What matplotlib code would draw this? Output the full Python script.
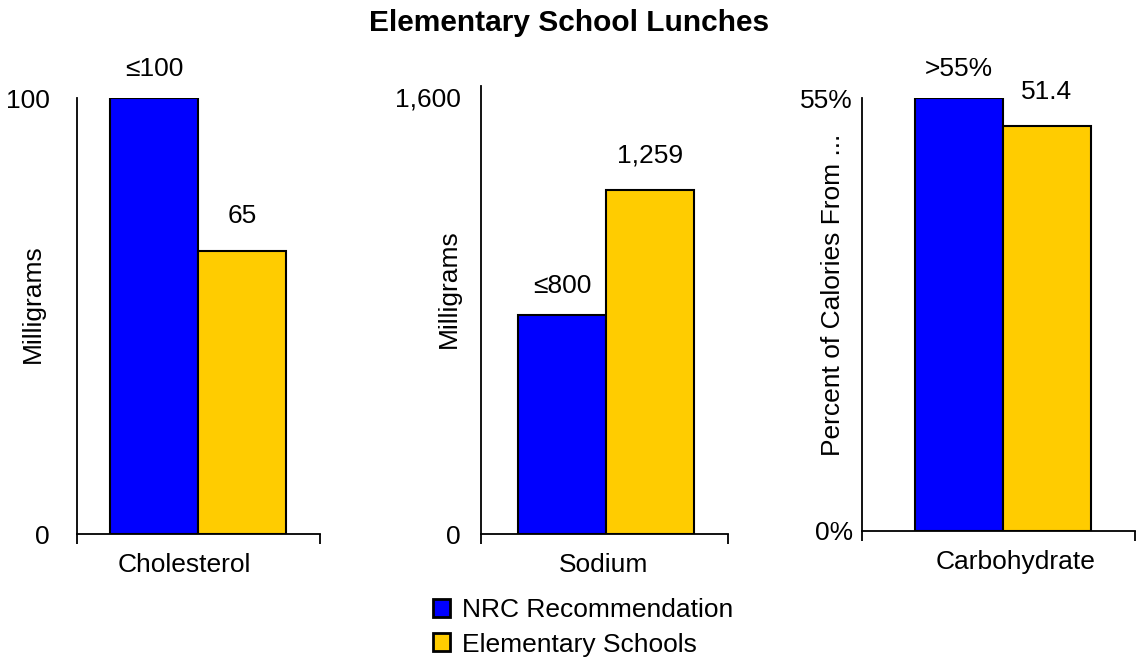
import matplotlib
matplotlib.use("Agg")
import matplotlib.pyplot as plt
from matplotlib.patches import Patch

plt.rcParams['font.family'] = ['Liberation Sans', 'DejaVu Sans']

# ---- data ----
title = "Elementary School Lunches"
series = ["NRC Recommendation", "Elementary Schools"]
colors = ["#0000FF", "#FFCC00"]

categories = ["Cholesterol", "Sodium", "Carbohydrate"]
ylabels = ["Milligrams", "Milligrams", "Percent of Calories From ..."]
nrc_values = [100, 800, 55]
school_values = [65, 1259, 51.4]
nrc_labels = ["\u2264100", "\u2264800", ">55%"]
school_labels = ["65", "1,259", "51.4"]
yticks = [[0, 100], [0, 1600], [0, 55]]
ytick_labels = [["0", "100"], ["0", "1,600"], ["0%", "55%"]]

# ---- layout (pixels on a 1138x661 canvas) ----
W, H = 1138, 661
panels = [
    # left, right, zero y, top y, ytop value, ytick pad, ylabel x, ylabel y, cat x, bar center x
    dict(l=77, r=320, y0=534, y1=98, ytop=100, pad=27, ylx=33, yly=304, catx=184, bcx=198),
    dict(l=481, r=728, y0=534, y1=86, ytop=1640, pad=20, ylx=449, yly=289, catx=604, bcx=606),
    dict(l=862, r=1135, y0=531, y1=98, ytop=55, pad=9, ylx=833, yly=295, catx=1016, bcx=1003),
]
bar_px = 88
fs = 19

fig = plt.figure(figsize=(W / 100, H / 100), dpi=100)

for i, p in enumerate(panels):
    wpx = p["r"] - p["l"]
    hpx = p["y0"] - p["y1"]
    ax = fig.add_axes([p["l"] / W, 1 - p["y0"] / H, wpx / W, hpx / H])
    ax.set_xlim(-0.5, 0.5)
    ax.set_ylim(0, p["ytop"])
    bw = bar_px / wpx
    c = (p["bcx"] - (p["l"] + p["r"]) / 2) / wpx
    ax.bar(c - bw / 2, nrc_values[i], width=bw, color=colors[0],
           edgecolor="black", linewidth=1.5)
    ax.bar(c + bw / 2, school_values[i], width=bw, color=colors[1],
           edgecolor="black", linewidth=1.5)
    ax.annotate(nrc_labels[i], (c - bw / 2, nrc_values[i]), xytext=(0, 21),
                textcoords="offset points", ha="center", va="center", fontsize=fs)
    ax.annotate(school_labels[i], (c + bw / 2, school_values[i]), xytext=(0, 25),
                textcoords="offset points", ha="center", va="center", fontsize=fs)

    for s in ["top", "right"]:
        ax.spines[s].set_visible(False)
    ax.spines["left"].set_linewidth(1.3)
    ax.spines["bottom"].set_linewidth(1.3)

    ax.set_yticks(yticks[i])
    ax.set_yticklabels(ytick_labels[i], fontsize=fs)
    ax.tick_params(axis="y", length=0, pad=p["pad"] * 0.72)

    catx = (p["catx"] - (p["l"] + p["r"]) / 2) / wpx
    ax.set_xticks([catx])
    ax.set_xticklabels([categories[i]], fontsize=fs)
    ax.tick_params(axis="x", which="major", length=0, pad=14)
    ax.set_xticks([-0.5, 0.5], minor=True)
    ax.tick_params(axis="x", which="minor", length=7, width=1.3, direction="out")

    ax.set_ylabel(ylabels[i], fontsize=fs, va="center")
    ax.yaxis.set_label_coords((p["ylx"] - p["l"]) / wpx, (p["y0"] - p["yly"]) / hpx)

fig.text(0.5, 1 - 23 / H, title, ha="center", va="center",
         fontsize=21.5, fontweight="bold")

handles = [Patch(facecolor=colors[k], edgecolor="black", linewidth=2) for k in range(2)]
fig.legend(handles, series, loc="upper left", bbox_to_anchor=(433 / W, 1 - 598 / H),
           frameon=False, fontsize=fs, handlelength=0.65, handleheight=0.65,
           handletextpad=0.45, labelspacing=0.4, borderpad=0, borderaxespad=0)

fig.savefig("out.png", dpi=100)
